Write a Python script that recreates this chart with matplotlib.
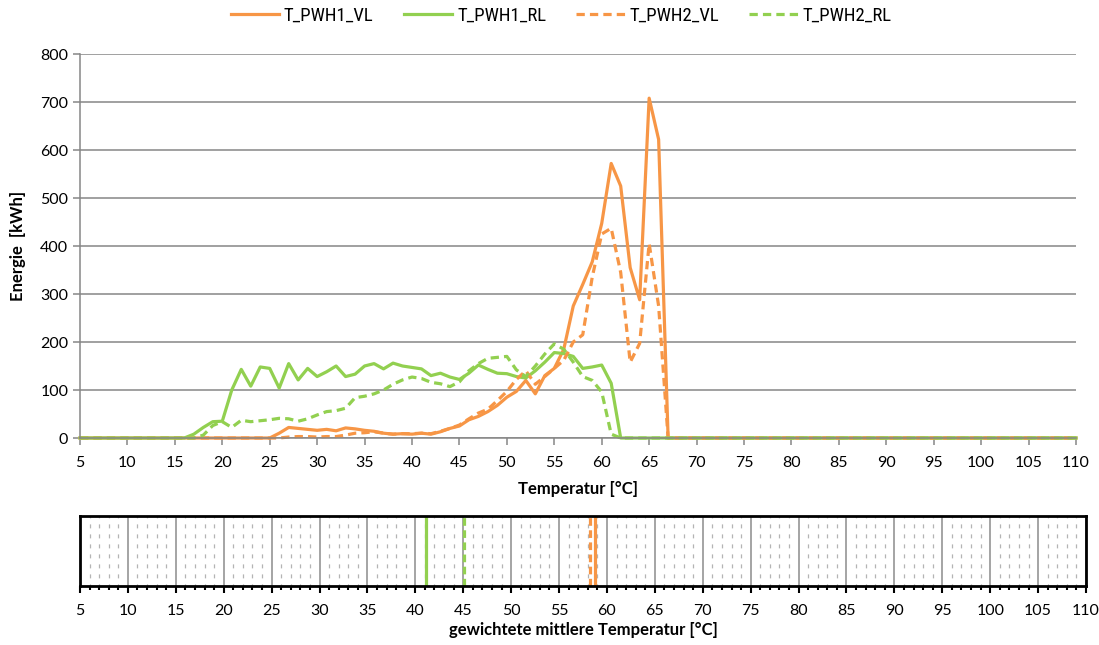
import matplotlib
matplotlib.use("Agg")
import matplotlib.pyplot as plt
from matplotlib import font_manager
from matplotlib.ticker import MultipleLocator

# Temperature classes [°C]
temperatur = list(range(5, 111))

# Energy per temperature class [kWh]
pwh1_vl = [0] * 21 + [10, 22, 20, 18, 16, 18, 15, 21, 19, 16, 14, 10, 8, 9, 8, 10, 8,
                      13, 20, 25, 38, 45, 55, 68, 85, 97, 120, 92, 130, 145, 185, 275,
                      320, 367, 447, 572, 525, 355, 288, 708, 622, 0] + [0] * 43
pwh1_rl = [0] * 12 + [8, 22, 34, 35, 100, 143, 108, 148, 145, 104, 155, 121, 145, 128,
                      138, 150, 128, 133, 150, 155, 144, 156, 150, 147, 144, 130, 135,
                      127, 122, 135, 152, 143, 135, 134, 128, 125, 140, 158, 178, 176,
                      170, 145, 148, 152, 114] + [0] * 49
pwh2_vl = [0] * 22 + [2, 3, 3, 2, 3, 3, 6, 10, 11, 13, 10, 8, 9, 9, 10, 9, 14, 20, 27,
                      40, 52, 60, 78, 97, 122, 140, 112, 128, 145, 162, 200, 215, 335,
                      425, 437, 345, 158, 197, 405, 275] + [0] * 44
pwh2_rl = [0] * 13 + [6, 26, 34, 22, 37, 34, 36, 38, 41, 40, 35, 40, 48, 55, 57, 62, 84,
                      87, 92, 100, 112, 121, 127, 124, 116, 113, 107, 117, 140, 155, 166,
                      168, 170, 142, 128, 150, 175, 196, 185, 158, 128, 120, 96, 8] + [0] * 49

# Weighted mean temperatures [°C]
mittel_pwh1_vl = 58.8
mittel_pwh1_rl = 41.1
mittel_pwh2_vl = 58.2
mittel_pwh2_rl = 45.1

namen = ["T_PWH1_VL", "T_PWH1_RL", "T_PWH2_VL", "T_PWH2_RL"]

ORANGE = "#F79646"
GREEN = "#92D050"
GRID = "#868686"


def pick_font(candidates):
    for name in candidates:
        try:
            font_manager.findfont(name, fallback_to_default=False)
            return name
        except Exception:
            continue
    return "DejaVu Sans"


main_font = pick_font(["Lato", "Open Sans", "Liberation Sans"])
legend_font = pick_font(["Liberation Sans Narrow", "Roboto Condensed", "Lato"])
plt.rcParams["font.family"] = [main_font, "DejaVu Sans"]

W, H = 1099, 645
fig = plt.figure(figsize=(W / 100, H / 100), dpi=100)

# ---- main chart -------------------------------------------------------------
ax = fig.add_axes([80 / W, 1 - 438 / H, (1076 - 80) / W, (438 - 54) / H])
lw = 2.3
dash = (2.6, 1.6)
styles = [
    (pwh1_vl, ORANGE, "-"),
    (pwh1_rl, GREEN, "-"),
    (pwh2_vl, ORANGE, "--"),
    (pwh2_rl, GREEN, "--"),
]
handles = []
for (werte, farbe, ls), name in zip(styles, namen):
    (ln,) = ax.plot(temperatur, werte, color=farbe, lw=lw, ls=ls,
                    solid_joinstyle="round", clip_on=False, label=name)
    if ls == "--":
        ln.set_dashes(dash)
    handles.append(ln)

ax.set_xlim(5, 110)
ax.set_ylim(0, 800)
ax.xaxis.set_major_locator(MultipleLocator(5))
ax.yaxis.set_major_locator(MultipleLocator(100))
ax.yaxis.grid(True, color=GRID, lw=1.1)
ax.set_axisbelow(True)
for s in ["top", "right"]:
    ax.spines[s].set_visible(False)
for s in ["left", "bottom"]:
    ax.spines[s].set_color(GRID)
    ax.spines[s].set_linewidth(1.1)
ax.tick_params(axis="both", direction="out", length=5, width=1.1, color=GRID,
               labelsize=11.5, labelcolor="black")
ax.tick_params(axis="x", pad=8)
ax.set_xlabel("Temperatur [°C]", fontsize=12, fontweight="bold", labelpad=8)
ax.set_ylabel("Energie  [kWh]", fontsize=12, fontweight="bold", labelpad=10)

# ---- legend -----------------------------------------------------------------
fig.legend(handles, namen, loc="center", bbox_to_anchor=(561 / W, 1 - 16 / H),
           ncol=4, frameon=False, handlelength=2.6, handletextpad=0.25,
           columnspacing=1.6, prop={"family": legend_font, "size": 13.5})

# ---- mean temperature strip ------------------------------------------------
ax2 = fig.add_axes([80 / W, 1 - 586 / H, (1086 - 80) / W, (586 - 516) / H])
ax2.set_xlim(5, 110)
ax2.set_ylim(0, 1)
ax2.set_yticks([])
ax2.xaxis.set_major_locator(MultipleLocator(5))
ax2.xaxis.set_minor_locator(MultipleLocator(1))
ax2.grid(True, which="major", axis="x", color="#8c8c8c", lw=1.1)
ax2.grid(True, which="minor", axis="x", color="#b4b4b4", lw=0.9,
         ls=(1.5, (3.2, 4.8)))
ax2.set_axisbelow(True)
for s in ax2.spines.values():
    s.set_color("black")
    s.set_linewidth(2.0)
ax2.tick_params(axis="x", which="major", direction="out", length=5, width=1.5,
                color="black", labelsize=11.5, pad=8)
ax2.tick_params(axis="x", which="minor", direction="out", length=3, width=1.5,
                color="black")

mittel = [mittel_pwh1_vl, mittel_pwh1_rl, mittel_pwh2_vl, mittel_pwh2_rl]
for m, (_, farbe, ls) in zip(mittel, styles):
    ln = ax2.axvline(m, color=farbe, lw=lw, ls=ls)
    if ls == "--":
        ln.set_dashes((2.4, 1.4))

ax2.set_xlabel("gewichtete mittlere Temperatur [°C]", fontsize=12,
               fontweight="bold", labelpad=3)

fig.savefig("out.png", dpi=100)
